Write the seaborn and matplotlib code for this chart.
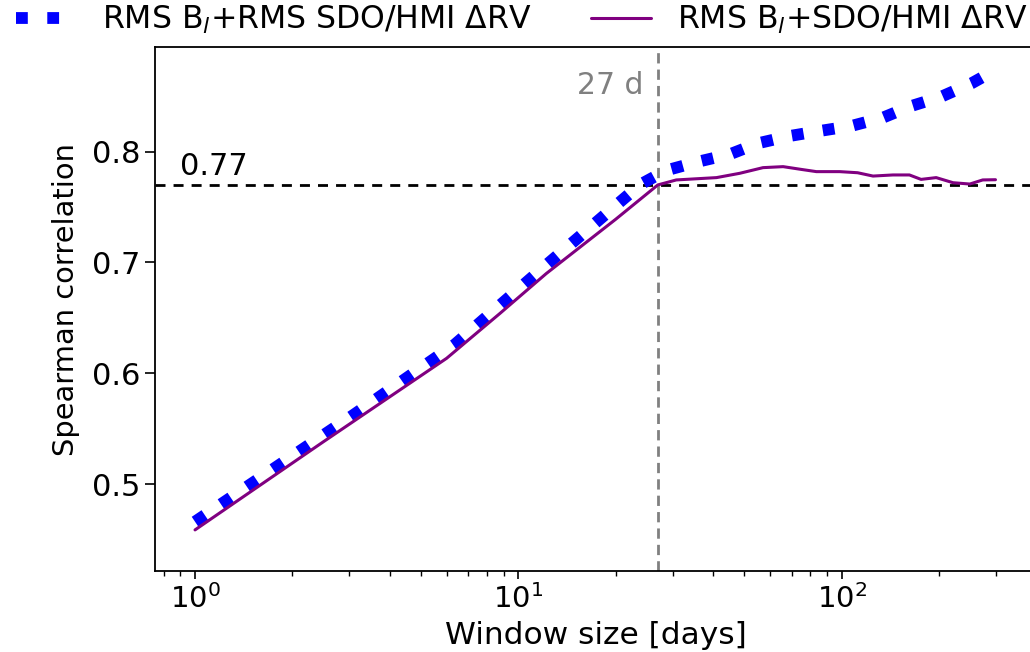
import numpy as np
import pandas as pd
import matplotlib
matplotlib.use("Agg")
import matplotlib.pyplot as plt
import seaborn as sns

# ---------------- data ----------------
blue_x = [1, 3.09, 6.36, 12.2, 23.9, 27, 29, 36, 45.1, 55.1, 69.1, 85.5, 107, 134, 164, 203, 252, 300]
blue_y = [0.466, 0.5624, 0.626, 0.6977, 0.7706, 0.7790, 0.7835, 0.791, 0.7977, 0.8076, 0.8142, 0.8187,
          0.8232, 0.8307, 0.8412, 0.8496, 0.8617, 0.874]

purple_x = [1, 2.49, 6.0, 8.77, 12.2, 20, 27, 30.8, 41, 48.4, 57.1, 65.9, 75, 83.5, 98.6, 112, 125,
            144, 162, 176, 196, 221, 249, 273, 299]
purple_y = [0.4586, 0.538, 0.6135, 0.654, 0.690, 0.739, 0.770, 0.7745, 0.7766, 0.7805, 0.7856, 0.7865,
            0.784, 0.782, 0.782, 0.781, 0.778, 0.779, 0.779, 0.775, 0.7766, 0.772, 0.7708, 0.7745, 0.7747]

blue_label = "RMS B$_l$+RMS SDO/HMI ΔRV"
purple_label = "RMS B$_l$+SDO/HMI ΔRV"
threshold = 0.77
window_mark = 27
threshold_text = "0.77"
window_text = "27 d"
xlabel = "Window size [days]"
ylabel = "Spearman correlation"
yticks = [0.5, 0.6, 0.7, 0.8]

# ---------------- style ----------------
sns.set_style("ticks")
plt.rcParams["font.family"] = ["DejaVu Sans"]
plt.rcParams["mathtext.fontset"] = "dejavusans"
for k in ["text.color", "axes.labelcolor", "xtick.color", "ytick.color", "axes.edgecolor"]:
    plt.rcParams[k] = "black"

fig = plt.figure(figsize=(10.30, 6.52), dpi=100)
ax = fig.add_axes([155 / 1030, 81 / 652, 881 / 1030, 524 / 652])

df_b = pd.DataFrame({"x": blue_x, "y": blue_y})
df_p = pd.DataFrame({"x": purple_x, "y": purple_y})

sns.lineplot(data=df_b, x="x", y="y", ax=ax, color="blue", linewidth=8.5,
             linestyle=":", label=blue_label, zorder=3)
sns.lineplot(data=df_p, x="x", y="y", ax=ax, color="purple", linewidth=2.2,
             label=purple_label, zorder=4)

ax.axhline(threshold, color="black", linewidth=2.0, dashes=(3.6, 2.9), zorder=2)
ax.axvline(window_mark, color="gray", linewidth=2.0, dashes=(3.7, 2.2), zorder=2)

ax.set_xscale("log")
ax.set_xlim(0.752, 399)
ax.set_ylim(0.4215, 0.8945)
ax.set_yticks(yticks)

ax.text(24.3, 0.860, window_text, color="gray", fontsize=21.5, ha="right", va="center")
ax.text(0.9, 0.779, threshold_text, color="black", fontsize=22, ha="left", va="baseline")

ax.set_xlabel(xlabel, fontsize=22.5, labelpad=5)
ax.set_ylabel(ylabel, fontsize=20.8)
ax.yaxis.set_label_coords(-0.085, 0.519)
ax.tick_params(axis="x", which="major", labelsize=21, length=6, width=1.2, direction="out")
ax.tick_params(axis="y", which="major", labelsize=22, length=7, width=1.2, direction="out")
ax.tick_params(axis="both", which="minor", length=3.5, width=1.0, direction="out")

for s in ["left", "bottom", "top", "right"]:
    ax.spines[s].set_linewidth(1.3)

handles, labels = ax.get_legend_handles_labels()
ax.get_legend().remove()
fig.legend(handles, labels, loc="center left", bbox_to_anchor=(16 / 1030, 1 - 20 / 652),
           ncol=2, frameon=False, fontsize=22.7, handlelength=1.93, handletextpad=0.8,
           columnspacing=1.87, borderpad=0, borderaxespad=0)

fig.savefig("out.png", dpi=100)
